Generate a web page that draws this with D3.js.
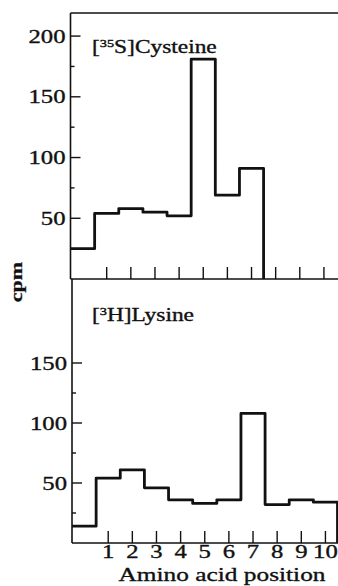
<!DOCTYPE html>
<html>
<head>
<meta charset="utf-8">
<script src="https://cdn.jsdelivr.net/npm/d3@7"></script>
<style>
  html, body { margin: 0; padding: 0; background: #fff; }
  svg { display: block; }
  text { font-family: "Liberation Serif", "Times New Roman", serif; fill: #111; stroke: #111; stroke-width: 0.35px; }
</style>
</head>
<body>
<div id="chart"></div>
<script>
// amino acid positions (bin centres) and counts
const cysPositions = [0, 1, 2, 3, 4, 5, 6, 7];
const cysCpm = [25, 54, 58, 55, 52, 181, 69, 91];
const lysPositions = [0, 1, 2, 3, 4, 5, 6, 7, 8, 9, 10];
const lysCpm = [14, 54, 61, 46, 36, 33, 36, 108, 32, 36, 34];
const xTicks = [1, 2, 3, 4, 5, 6, 7, 8, 9, 10];
const cysMajor = [50, 100, 150, 200];
const cysMinor = [25, 75, 125, 175];
const lysMajor = [50, 100, 150];
const lysMinor = [25, 75, 125];

const W = 338, H = 586, STRETCH = 1.3;

let svg = d3.select('#chart').append('svg')
  .attr('width', W)
  .attr('height', H);

// bins are centred on integers, so the step edges sit on the half positions
function stepPoints(pos, vals) {
  let pts = pos.map((p, i) => [p - 0.5, vals[i]]);
  pts.push([pos[pos.length - 1] + 0.5, 0]);
  return pts;
}

function drawPanel(opts) {
  let g = svg.append('g');
  let x = opts.x, y = opts.y;
  let x0 = x.range()[0], y0 = y.range()[0];

  // y axis line
  g.append('line')
    .attr('x1', x0).attr('x2', x0)
    .attr('y1', y.range()[1]).attr('y2', y0)
    .attr('stroke', '#111').attr('stroke-width', 1.6);
  // x axis line
  g.append('line')
    .attr('x1', x0).attr('x2', W)
    .attr('y1', y0).attr('y2', y0)
    .attr('stroke', '#111').attr('stroke-width', 1.6);

  // inward ticks on y
  g.selectAll('.ymaj').data(opts.major).enter().append('line')
    .attr('x1', x0).attr('x2', x0 + 10)
    .attr('y1', d => y(d)).attr('y2', d => y(d))
    .attr('stroke', '#111').attr('stroke-width', 1.4);
  g.selectAll('.ymin').data(opts.minor).enter().append('line')
    .attr('x1', x0).attr('x2', x0 + 4)
    .attr('y1', d => y(d)).attr('y2', d => y(d))
    .attr('stroke', '#111').attr('stroke-width', 1.4);
  g.selectAll('.ylab').data(opts.major).enter().append('text')
    .attr('transform', d => `translate(${x0 - 5},${y(d) + 6.5}) scale(${STRETCH},1)`)
    .attr('text-anchor', 'end')
    .style('font-size', '19px')
    .text(d => d);

  // inward ticks on x
  g.selectAll('.xt').data(xTicks).enter().append('line')
    .attr('x1', d => x(d)).attr('x2', d => x(d))
    .attr('y1', y0).attr('y2', y0 - 12)
    .attr('stroke', '#111').attr('stroke-width', 1.4);

  let line = d3.line()
    .x(d => x(d[0]))
    .y(d => y(d[1]))
    .curve(d3.curveStepAfter);
  g.append('path')
    .datum(stepPoints(opts.pos, opts.vals))
    .attr('d', line)
    .attr('fill', 'none')
    .attr('stroke', '#111')
    .attr('stroke-width', 2.8)
    .attr('stroke-linejoin', 'round');

  // isotope label with superscript
  let t = g.append('text')
    .attr('transform', `translate(${opts.labelX},${opts.labelY}) scale(${STRETCH},1)`)
    .style('font-size', '18px');
  t.append('tspan').text('[');
  t.append('tspan').attr('dy', -6).style('font-size', '11px').text(opts.sup);
  t.append('tspan').attr('dy', 6).text(opts.label);
  return g;
}

let xTop = d3.scaleLinear().domain([-0.5, 10.5]).range([70.5, 336]);
let yTop = d3.scaleLinear().domain([0, 219]).range([279, 13]);
let xBot = d3.scaleLinear().domain([-0.5, 10.5]).range([72, 337.5]);
let yBot = d3.scaleLinear().domain([0, 220]).range([543, 279]);

drawPanel({
  x: xTop, y: yTop, pos: cysPositions, vals: cysCpm,
  major: cysMajor, minor: cysMinor,
  sup: '35', label: 'S]Cysteine', labelX: 92, labelY: 53
});
// frame top of upper panel
svg.append('line')
  .attr('x1', xTop.range()[0]).attr('x2', W)
  .attr('y1', yTop.range()[1]).attr('y2', yTop.range()[1])
  .attr('stroke', '#111').attr('stroke-width', 1.6);

drawPanel({
  x: xBot, y: yBot, pos: lysPositions, vals: lysCpm,
  major: lysMajor, minor: lysMinor,
  sup: '3', label: 'H]Lysine', labelX: 92, labelY: 321
});

// x tick labels (bottom panel only)
svg.selectAll('.xlab').data(xTicks).enter().append('text')
  .attr('transform', d => `translate(${xBot(d)},558) scale(${STRETCH},1)`)
  .attr('text-anchor', 'middle')
  .style('font-size', '19px')
  .text(d => d);

svg.append('text')
  .attr('transform', `translate(222,581) scale(${STRETCH},1)`)
  .attr('text-anchor', 'middle')
  .style('font-size', '19.5px')
  .text('Amino acid position');

svg.append('text')
  .attr('transform', 'translate(22,282) scale(0.8,1) rotate(-90)')
  .attr('text-anchor', 'middle')
  .style('font-size', '22px')
  .style('font-weight', 'bold')
  .text('cpm');
</script>
</body>
</html>
